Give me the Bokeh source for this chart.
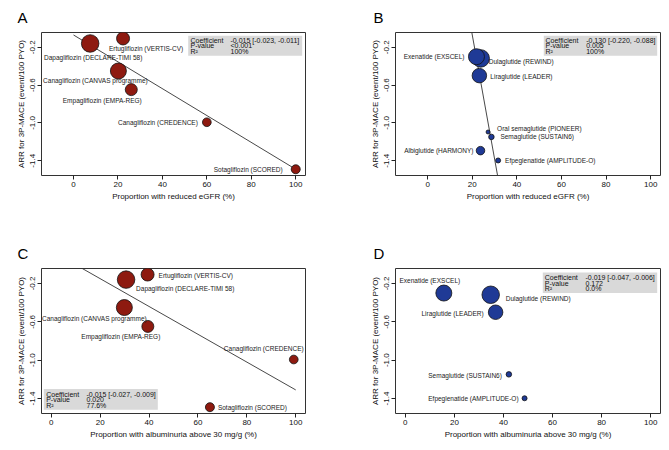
from bokeh.plotting import figure
from bokeh.layouts import column, row
from bokeh.models import (Range1d, FixedTicker, NumeralTickFormatter, ColumnDataSource,
                          Label, BoxAnnotation)
from bokeh.embed import file_html
from bokeh.resources import INLINE
from bokeh.core.properties import value

# ---------------- data ----------------
sglt2_trials = ["Dapagliflozin (DECLARE-TIMI 58)", "Ertugliflozin (VERTIS-CV)",
                "Canagliflozin (CANVAS programme)", "Empagliflozin (EMPA-REG)",
                "Canagliflozin (CREDENCE)", "Sotagliflozin (SCORED)"]
sglt2_arr = [-0.16, -0.107, -0.451, -0.648, -0.993, -1.49]
sglt2_egfr = [7.5, 22.3, 20.2, 26.0, 60.0, 100.0]
sglt2_alb = [30.6, 39.4, 29.9, 39.5, 99.2, 64.9]
sglt2_weight = [17.5, 13.0, 16.0, 12.0, 8.7, 9.0]

glp1_trials = ["Dulaglutide (REWIND)", "Exenatide (EXSCEL)", "Liraglutide (LEADER)",
               "Oral semaglutide (PIONEER)", "Semaglutide (SUSTAIN6)",
               "Albiglutide (HARMONY)", "Efpeglenatide (AMPLITUDE-O)"]
glp1_arr = [-0.318, -0.300, -0.500, -1.096, -1.148, -1.293, -1.397]
glp1_egfr = [23.8, 21.9, 23.2, 27.1, 28.6, 23.7, 31.6]
glp1_alb = [34.8, 15.7, 36.8, None, 42.2, None, 48.6]
glp1_weight = [17.5, 16.0, 14.5, 4.0, 5.5, 8.5, 5.0]

# meta-regression fits: (intercept, slope); None = not drawn
fit_A = (-0.07, -0.0142)
fit_B = (2.552, -0.131)
fit_C = (0.140, -0.0145)
fit_D = None

stat_names = ["Coefficient", "P-value", "R\u00b2"]
stats_A = ["-0.015 [-0.023, -0.011]", "<0.001", "100%"]
stats_B = ["-0.130 [-0.220, -0.088]", "0.005", "100%"]
stats_C = ["-0.015 [-0.027, -0.009]", "0.020", "77.6%"]
stats_D = ["-0.019 [-0.047, -0.006]", "0.172", "0.0%"]

y_ticks = [-0.2, -0.6, -1.0, -1.4]
x_ticks = [0, 20, 40, 60, 80, 100]
xlab_egfr = "Proportion with reduced eGFR (%)"
xlab_alb = "Proportion with albuminuria above 30 mg/g (%)"
ylab = "ARR for 3P-MACE (event/100 PYO)"

# ---------------- styles ----------------
FONT = "Liberation Sans"
RED = "#8e1a10"
BLUE = "#1f3a96"
YR = (-1.556, -0.044)

# label placement (align, dx, dy px) per trial name
lab_A = {"Dapagliflozin (DECLARE-TIMI 58)": ("center", 3, 14),
         "Ertugliflozin (VERTIS-CV)": ("center", 23, 10),
         "Canagliflozin (CANVAS programme)": ("center", -23, 10),
         "Empagliflozin (EMPA-REG)": ("center", -29, 11),
         "Canagliflozin (CREDENCE)": ("right", -9, 0),
         "Sotagliflozin (SCORED)": ("right", -13, 0)}
lab_B = {"Exenatide (EXSCEL)": ("right", -12, 0),
         "Dulaglutide (REWIND)": ("left", 8, 3),
         "Liraglutide (LEADER)": ("left", 11, 1),
         "Oral semaglutide (PIONEER)": ("left", 9, -3),
         "Semaglutide (SUSTAIN6)": ("left", 9, 0),
         "Albiglutide (HARMONY)": ("right", -7, 0),
         "Efpeglenatide (AMPLITUDE-O)": ("left", 7, 0)}
lab_C = {"Ertugliflozin (VERTIS-CV)": ("left", 11, 1),
         "Dapagliflozin (DECLARE-TIMI 58)": ("left", 10, 9),
         "Canagliflozin (CANVAS programme)": ("center", -30, 11),
         "Empagliflozin (EMPA-REG)": ("center", -27, 10),
         "Canagliflozin (CREDENCE)": ("center", -30, -11),
         "Sotagliflozin (SCORED)": ("left", 8, 0)}
lab_D = {"Exenatide (EXSCEL)": ("center", -14, -13),
         "Dulaglutide (REWIND)": ("left", 15, 4),
         "Liraglutide (LEADER)": ("right", -12, 1),
         "Semaglutide (SUSTAIN6)": ("right", -7, 1),
         "Efpeglenatide (AMPLITUDE-O)": ("right", -6, 0)}


def make_panel(letter, xs, ys, ws, names, color, fit, stats, labels, xlim, xlabel,
               width, height, borders, box_px, txt_px, frame_px, letter_off):
    bl, br, bt, bb = borders
    p = figure(width=width, height=height, output_backend="svg", toolbar_location=None,
               x_range=Range1d(*xlim), y_range=Range1d(*YR),
               min_border_left=bl, min_border_right=br, min_border_top=bt,
               min_border_bottom=bb, background_fill_color="white",
               border_fill_color="white")
    p.grid.visible = False
    p.outline_line_color = "#333333"
    p.outline_line_width = 1
    for ax in (p.xaxis[0], p.yaxis[0]):
        ax.axis_line_color = None
        ax.major_tick_out = 4
        ax.major_tick_in = 0
        ax.minor_tick_out = 0
        ax.minor_tick_in = 0
        ax.major_tick_line_color = "#222222"
        ax.major_label_text_font = FONT
        ax.major_label_text_font_size = "8px"
        ax.major_label_text_color = "#111111"
        ax.axis_label_text_font = FONT
        ax.axis_label_text_font_size = "8px"
        ax.axis_label_text_font_style = "normal"
        ax.axis_label_text_color = "#111111"
    p.xaxis.ticker = FixedTicker(ticks=x_ticks)
    p.yaxis.ticker = FixedTicker(ticks=y_ticks)
    p.yaxis.formatter = NumeralTickFormatter(format="0.0")
    p.yaxis.major_label_orientation = "vertical"
    p.xaxis.axis_label = xlabel
    p.yaxis.axis_label = ylab
    p.xaxis.major_label_standoff = 2
    p.xaxis.axis_label_standoff = 2
    p.yaxis.major_label_standoff = 2
    p.yaxis.axis_label_standoff = 2

    # panel letter as the figure title
    p.title.text = letter
    p.title.align = "left"
    p.title.offset = letter_off
    p.title.text_font = FONT
    p.title.text_font_size = "15px"
    p.title.text_font_style = "normal"
    p.title.text_color = "black"
    p.title.standoff = 13
    p.title.vertical_align = "bottom"

    # regression line over the observed x domain
    if fit is not None:
        a, b = fit
        lx = [0.0, 100.0]
        p.line(lx, [a + b * v for v in lx], line_color="#333333", line_width=0.9)

    # points
    keep = [i for i in range(len(xs)) if xs[i] is not None]
    src = ColumnDataSource(dict(
        x=[xs[i] for i in keep], y=[ys[i] for i in keep],
        size=[ws[i] for i in keep], name=[names[i] for i in keep],
        align=[labels[names[i]][0] for i in keep],
        dx=[labels[names[i]][1] for i in keep],
        dy=[labels[names[i]][2] for i in keep]))
    p.scatter("x", "y", size="size", source=src, fill_color=color,
              line_color="#111111", line_width=0.8)
    p.text("x", "y", text="name", source=src, text_align="align",
           x_offset="dx", y_offset="dy", text_baseline="middle",
           text_font=value(FONT), text_font_size="6.5px", text_color="#1a1a1a")

    # helpers: page-pixel -> data
    fx0, fy0, fw, fh = frame_px

    def dx_(px):
        return xlim[0] + (px - fx0) / fw * (xlim[1] - xlim[0])

    def dy_(py):
        return YR[1] - (py - fy0) / fh * (YR[1] - YR[0])

    x0, x1, y0, y1 = box_px
    p.add_layout(BoxAnnotation(left=dx_(x0), right=dx_(x1), top=dy_(y0), bottom=dy_(y1),
                               fill_color="#d9d9d9", fill_alpha=1.0, line_color=None,
                               level="underlay"))
    cx, vx, rows = txt_px
    for nm, val, ry in zip(stat_names, stats, rows):
        p.add_layout(Label(x=dx_(cx), y=dy_(ry), text=nm, text_font=FONT,
                           text_font_size="7px", text_baseline="middle",
                           text_color="#111111"))
        p.add_layout(Label(x=dx_(vx), y=dy_(ry), text=val, text_font=FONT,
                           text_font_size="7px", text_baseline="middle",
                           text_color="#111111"))
    return p


pA = make_panel("A", sglt2_egfr, sglt2_arr, sglt2_weight, sglt2_trials, RED, fit_A,
                stats_A, lab_A, (-14.4, 104.4), xlab_egfr, 338, 236, (41, 33, 31, 61),
                (187.7, 301.7, 34.3, 54.3), (190, 230, (39, 44.3, 50)),
                (41, 31, 264, 144), -24)
pB = make_panel("B", glp1_egfr, glp1_arr, glp1_weight, glp1_trials, BLUE, fit_B,
                stats_B, lab_B, (-14.4, 104.4), xlab_egfr, 323, 236, (57, 1, 31, 61),
                (543.3, 656.7, 34.3, 54.3), (545, 585.7, (39, 44.3, 50)),
                (395, 31, 265, 144), -22)
pC = make_panel("C", sglt2_alb, sglt2_arr, sglt2_weight, sglt2_trials, RED, fit_C,
                stats_C, lab_C, (-4.0, 104.0), xlab_alb, 338, 206, (41, 33, 31, 29),
                (43.3, 157.3, 388.3, 409.3), (45.7, 86, (393.5, 399, 404.5)),
                (41, 267, 264, 146), -24)
pD = make_panel("D", glp1_alb, glp1_arr, glp1_weight, glp1_trials, BLUE, fit_D,
                stats_D, lab_D, (-4.0, 104.0), xlab_alb, 323, 206, (57, 1, 31, 29),
                (542.3, 656.7, 271, 291.7), (544.3, 585, (275.7, 281.7, 287.3)),
                (395, 267, 265, 146), -22)

layout = column(row(pA, pB), row(pC, pD))
open("out.html", "w").write(file_html(layout, INLINE))
